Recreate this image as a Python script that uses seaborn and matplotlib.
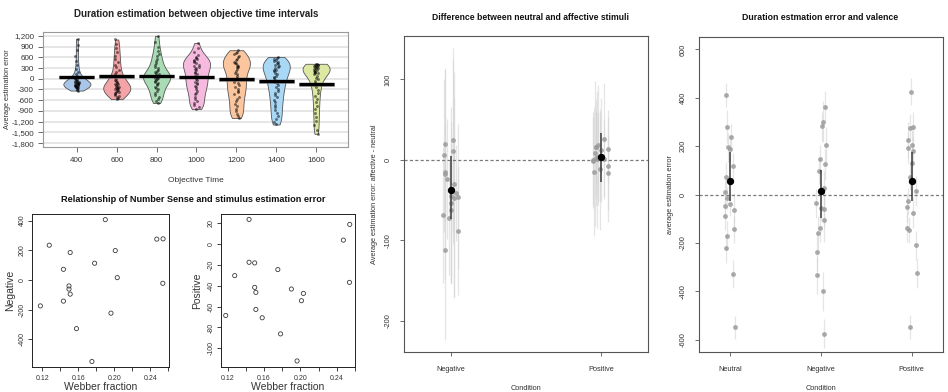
import numpy as np
import pandas as pd
import matplotlib
matplotlib.use("Agg")
import matplotlib.pyplot as plt
from matplotlib.ticker import FuncFormatter
import seaborn as sns

# ---------------- data ----------------
time_labels = ["400", "600", "800", "1000", "1200", "1400", "1600"]
err_400 = [-330, -310, -290, -270, -255, -240, -230, -220, -210, -200, -195, -185, -175, -170,
           -160, -150, -140, -130, -120, -110, -100, -90, -80, -65, -50, -35, -20, 0, 20, 50,
           90, 140, 200, 280, 380, 500, 640, 800, 950, 1120]
err_600 = [-570, -540, -510, -480, -450, -420, -400, -380, -360, -340, -320, -300, -280, -265,
           -250, -235, -220, -200, -180, -160, -140, -115, -90, -60, -30, 0, 40, 80, 130, 190,
           250, 320, 400, 480, 560, 650, 750, 850, 960, 1100]
err_800 = [-680, -620, -560, -500, -450, -400, -350, -300, -260, -220, -180, -150, -120, -90,
           -60, -30, -10, 10, 30, 50, 70, 90, 110, 130, 160, 190, 220, 260, 300, 340, 390, 440,
           500, 560, 630, 700, 790, 900, 1030, 1200]
err_1000 = [-850, -800, -740, -680, -620, -560, -500, -440, -390, -340, -290, -240, -200, -160,
            -120, -80, -40, 0, 40, 80, 120, 160, 200, 240, 280, 310, 340, 370, 400, 430, 460,
            490, 520, 550, 580, 620, 670, 740, 850, 1000]
err_1200 = [-1100, -1040, -980, -910, -840, -770, -700, -630, -560, -500, -440, -380, -330, -280,
            -230, -180, -130, -80, -30, 20, 70, 120, 170, 220, 270, 320, 360, 400, 440, 480, 520,
            560, 600, 640, 680, 720, 760, 800, 330, 450]
err_1400 = [-1280, -1200, -1120, -1040, -960, -880, -800, -730, -660, -590, -520, -460, -400,
            -340, -280, -230, -180, -130, -80, -30, 10, 50, 90, 130, 170, 210, 250, 290, 320, 350,
            380, 410, 440, 470, 500, 530, 560, 590, 610, 250]
err_1600 = [-1540, -1420, -1300, -1180, -1060, -950, -850, -750, -650, -560, -470, -390, -310,
            -240, -180, -120, -70, -20, 30, 80, 120, 160, 190, 220, 250, 275, 300, 320, 340, 360,
            380, 395, 410, 420, 150, 200, 260, 310, 350, 400]
mean_error = [55, 70, 85, 55, -15, -75, -155]
violin_colors = ["#a9c6e8", "#f4a3a7", "#a9dcb5", "#f5badd", "#fbc69e", "#a8d8f5", "#dde9a3"]

webber = [0.1178, 0.1277, 0.1435, 0.1435, 0.1497, 0.1497, 0.1510, 0.1510, 0.1580, 0.1752,
          0.1782, 0.1901, 0.1964, 0.2012, 0.2034, 0.2474, 0.2544, 0.2541]
negative = [-174, 234, 72, -142, -40, -61, 185, -95, -327, -548, 113, 406, -223, 198, 16, 275,
            277, -22]
positive = [-68.5, -30.2, 23.8, -17.4, -18, -41.5, -46.3, -62.7, -70.7, -24.4, -86.2, -43.1,
            -112.2, -54.3, -47.3, 3.9, 19, -36.7]

diff_conditions = ["Negative", "Positive"]
diff_negative = [24.5, 19.5, 5.8, 10.8, -15.7, -17.8, -24.0, -30.6, -44.7, -46.0, -47.3, -41.0,
                 -53.5, -62.6, -68.8, -72.9, -88.7, -112.3]
diff_negative_hw = [115, 95, 95, 115, 60, 130, 75, 140, 110, 90, 125, 60, 100, 90, 85, 70, 80, 112]
diff_positive = [25.3, 18.3, 15.4, 15.4, 12.0, 3.7, 2.5, 1.3, 0.5, -0.4, -1.6, -7.8, -12.0, -14.9,
                 -17.0, 4.5, 8.0, 13.0]
diff_positive_hw = [70, 75, 60, 45, 65, 55, 60, 50, 85, 60, 55, 70, 75, 80, 45, 55, 90, 40]
diff_means = [-37, 3.7]
diff_mean_lo = [-74, -27]
diff_mean_hi = [5, 33]

val_conditions = ["Neutral", "Negative", "Positive"]
val_neutral = [411, 280, 237, 196, 190, 118, 74, 12, -15, -38, -45, -63, -88, -143, -169, -221,
               -328, -548]
val_neutral_hw = [50, 68, 55, 60, 58, 55, 60, 50, 45, 50, 55, 70, 60, 55, 60, 60, 58, 48]
val_negative = [363, 301, 283, 204, 146, 125, 98, 29, -35, -56, -60, -104, -136, -157, -239, -334,
                -400, -575]
val_negative_hw = [65, 85, 60, 75, 60, 65, 55, 70, 60, 55, 75, 90, 60, 70, 75, 75, 80, 60]
val_positive = [425, 280, 276, 226, 205, 194, 182, 132, 74, 15, -26, -52, -74, -136, -146, -210,
                -324, -548]
val_positive_hw = [55, 60, 55, 75, 60, 65, 60, 65, 55, 60, 55, 60, 65, 60, 55, 60, 60, 50]
val_means = [56, 16, 58]
val_mean_lo = [-25, -97, -25]
val_mean_hi = [178, 102, 178]

# ---------------- style ----------------
sns.set_style("white")
plt.rcParams["font.family"] = ["Liberation Sans", "DejaVu Sans"]
plt.rcParams["axes.unicode_minus"] = False

W, H = 948, 392
fig = plt.figure(figsize=(W / 100, H / 100), dpi=100)


def add_ax(left, top, right, bottom):
    ax = fig.add_axes([left / W, 1 - bottom / H, (right - left) / W, (bottom - top) / H])
    ax._box = (left, top, right, bottom)
    return ax


def set_xlab(ax, text, y_px, size, **kw):
    l, t, r, b = ax._box
    ax.set_xlabel(text, fontsize=size, va="center", **kw)
    ax.xaxis.set_label_coords(0.5, (b - y_px) / (b - t))


def set_ylab(ax, text, x_px, size, **kw):
    l, t, r, b = ax._box
    ax.set_ylabel(text, fontsize=size, va="center", **kw)
    ax.yaxis.set_label_coords((x_px - l) / (r - l), 0.5)


def ftext(x, y, s, **kw):
    fig.text(x / W, 1 - y / H, s, ha="center", va="center", **kw)


txt = "#333333"

# ---------------- pirate plot ----------------
ax1 = add_ax(43, 32, 348, 147)
lists = [err_400, err_600, err_800, err_1000, err_1200, err_1400, err_1600]
df = pd.DataFrame({
    "time": np.repeat(time_labels, [len(v) for v in lists]),
    "error": np.concatenate(lists),
})
ax1.yaxis.grid(True, color="#e4e4e4", lw=1.3)
ax1.set_axisbelow(True)
sns.violinplot(data=df, x="time", y="error", hue="time", order=time_labels,
               hue_order=time_labels, palette=violin_colors, cut=0, inner=None,
               density_norm="width", width=0.68, bw_adjust=0.6, linewidth=0.6,
               linecolor="#555555", saturation=1, legend=False, ax=ax1)
sns.stripplot(data=df, x="time", y="error", order=time_labels, color="black", size=2.1,
              alpha=0.5, jitter=0.06, ax=ax1, zorder=3)
xs = np.arange(len(time_labels))
ax1.bar(xs, 70, bottom=np.array(mean_error) - 35, width=0.88, color="#b8b8b8", alpha=0.7,
        edgecolor="#666666", linewidth=0.4, zorder=4)
ax1.hlines(mean_error, xs - 0.44, xs + 0.44, color="black", lw=2.4, zorder=5)
ax1.set_xlim(-0.85, 6.8)
ax1.set_ylim(-1910, 1310)
ax1.set_yticks(range(-1800, 1201, 300))
ax1.yaxis.set_major_formatter(FuncFormatter(lambda v, p: f"{int(v):,}"))
for s in ax1.spines.values():
    s.set_color("#9a9a9a")
    s.set_linewidth(0.8)
ax1.tick_params(axis="both", labelsize=5.8, length=3.5, width=0.6, color="#555555",
                labelcolor=txt, direction="out")
ax1.tick_params(axis="y", pad=3, left=True)
ax1.tick_params(axis="x", pad=3.5, bottom=True)
set_xlab(ax1, "Objective Time", 180, 6, color=txt)
set_ylab(ax1, "Average estimation error", 8, 5.3, color=txt)
ftext(196, 14, "Duration estimation between objective time intervals", fontsize=7,
      fontweight="bold", color="#222222")

# ---------------- scatter plots ----------------
ftext(193, 200, "Relationship of Number Sense and stimulus estimation error", fontsize=6.6,
      fontweight="bold", color="#111111")


def scatter_panel(ax, y, ylim, yticks, ylabel, ylab_x):
    sns.scatterplot(x=webber, y=y, s=9, marker="o", ax=ax, legend=False)
    coll = ax.collections[0]
    coll.set_facecolor("none")
    coll.set_edgecolor("#3a3a3a")
    coll.set_linewidth(0.6)
    ax.set_ylim(*ylim)
    ax.set_xticks([0.12, 0.14, 0.16, 0.18, 0.20, 0.22, 0.24, 0.26])
    ax.set_xticklabels(["0.12", "", "0.16", "", "0.20", "", "0.24", ""])
    ax.set_yticks(yticks)
    ax.set_yticklabels([str(v) for v in yticks], rotation=90, va="center")
    for s in ax.spines.values():
        s.set_color("#222222")
        s.set_linewidth(0.7)
    ax.tick_params(axis="both", labelsize=5, length=3, width=0.6, color="#222222",
                   labelcolor=txt, direction="out", left=True, bottom=True)
    ax.tick_params(axis="x", pad=2.5)
    ax.tick_params(axis="y", pad=1.5)
    set_xlab(ax, "Webber fraction", 387, 7.5, color=txt)
    set_ylab(ax, ylabel, ylab_x, 7.5, color=txt)


ax2 = add_ax(32, 214, 169, 367)
scatter_panel(ax2, negative, (-585, 444), [-400, -200, 0, 200, 400], "Negative", 10)
ax2.set_xlim(0.1085, 0.2610)

ax3 = add_ax(221, 214, 355, 367)
scatter_panel(ax3, positive, (-118, 29), [-100, -80, -60, -40, -20, 0, 20], "Positive", 197)
ax3.set_xlim(0.1126, 0.2602)

# ---------------- condition panels ----------------
rng = np.random.default_rng(11)


def cond_panel(ax, conds, vals, hws, means, mlo, mhi, jit):
    for i, (v, hw) in enumerate(zip(vals, hws)):
        v = np.asarray(v, float)
        hw = np.asarray(hw, float)
        x = i + np.sort(rng.uniform(-jit, jit, len(v)))[rng.permutation(len(v))]
        ax.vlines(x, v - hw, v + hw, color="#d4d4d4", lw=0.9, alpha=0.6, zorder=1)
        sns.scatterplot(x=x, y=v, color="#9b9b9b", s=12, alpha=0.85, linewidth=0, ax=ax,
                        zorder=3, legend=False)
    idx = np.arange(len(conds))
    ax.axhline(0, color="#7a7a7a", lw=0.9, ls=(0, (2.5, 1.8)), zorder=2)
    ax.vlines(idx, mlo, mhi, color="#3c3c3c", lw=1.1, zorder=4)
    sns.scatterplot(x=idx, y=means, color="black", s=28, linewidth=0, ax=ax, zorder=5,
                    legend=False)
    ax.set_xticks(idx)
    ax.set_xticklabels(conds)
    for s in ax.spines.values():
        s.set_color("#555555")
        s.set_linewidth(0.8)
    ax.tick_params(axis="both", labelsize=5.3, length=3, width=0.6, color="#555555",
                   labelcolor=txt, direction="out", left=True, bottom=True)
    ax.tick_params(axis="x", pad=7)
    ax.tick_params(axis="y", pad=6)


ax4 = add_ax(404, 36, 648, 352)
cond_panel(ax4, diff_conditions, [diff_negative, diff_positive],
           [diff_negative_hw, diff_positive_hw], diff_means, diff_mean_lo, diff_mean_hi, 0.055)
ax4.set_xlim(-0.313, 1.313)
ax4.set_ylim(-239, 154)
ax4.set_yticks([-200, -100, 0, 100])
ax4.set_yticklabels(["-200", "-100", "0", "100"], rotation=90, va="center")
set_xlab(ax4, "Condition", 388, 5.3, color=txt)
set_ylab(ax4, "Average estimation error: affective - neutral", 375, 5.3, color=txt)
ftext(530, 17, "Difference between neutral and affective stimuli", fontsize=6.2,
      fontweight="bold", color="#111111")

ax5 = add_ax(699, 37, 943, 352)
cond_panel(ax5, val_conditions, [val_neutral, val_negative, val_positive],
           [val_neutral_hw, val_negative_hw, val_positive_hw], val_means, val_mean_lo,
           val_mean_hi, 0.06)
ax5.set_xlim(-0.345, 2.345)
ax5.set_ylim(-650, 651)
yt = [-600, -400, -200, 0, 200, 400, 600]
ax5.set_yticks(yt)
ax5.set_yticklabels([str(v) for v in yt], rotation=90, va="center")
set_xlab(ax5, "Condition", 388, 5.3, color=txt)
set_ylab(ax5, "average estimation error", 670, 5.3, color=txt)
ftext(820, 17, "Duration estmation error and valence", fontsize=6.3, fontweight="bold",
      color="#111111")

fig.savefig("out.png", dpi=100)
